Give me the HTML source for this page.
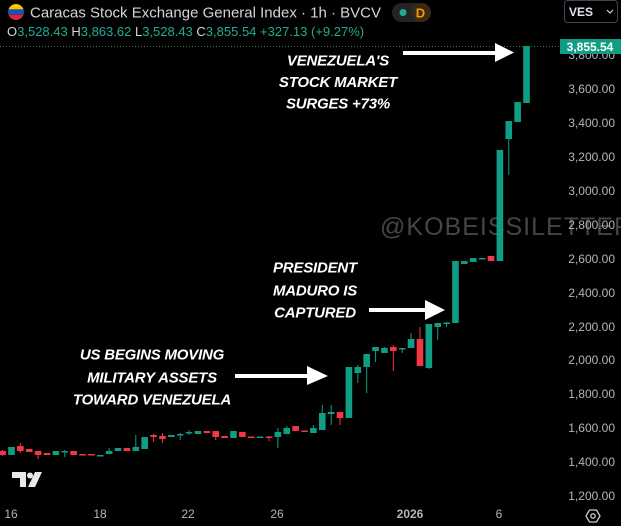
<!DOCTYPE html>
<html><head><meta charset="utf-8"><style>
html,body{margin:0;padding:0;background:#000;}
body{width:621px;height:526px;overflow:hidden;}
svg{display:block;}
.g{fill:#0f9d84;}
.r{fill:#f23645;}
.ax{font-family:"Liberation Sans",sans-serif;font-size:12px;fill:#b2b5be;}
.ann{font-family:"Liberation Sans",sans-serif;font-size:15px;font-weight:bold;font-style:italic;fill:#fff;letter-spacing:-0.2px;}
</style></head><body>
<svg width="621" height="526" viewBox="0 0 621 526" xmlns="http://www.w3.org/2000/svg">
<rect width="621" height="526" fill="#000"/>

<!-- watermark -->
<text x="380" y="235" font-family="Liberation Sans,sans-serif" font-size="25" fill="#454545" textLength="252" lengthAdjust="spacing">@KOBEISSILETTER</text>

<!-- price line -->
<line x1="0" y1="46.5" x2="560" y2="46.5" stroke="#4f6b66" stroke-width="1" stroke-dasharray="1,2"/>

<!-- y axis labels -->
<g class="ax" text-anchor="end">
<text x="615" y="59">3,800.00</text>
<text x="615" y="93">3,600.00</text>
<text x="615" y="127">3,400.00</text>
<text x="615" y="161">3,200.00</text>
<text x="615" y="195">3,000.00</text>
<text x="615" y="229">2,800.00</text>
<text x="615" y="263">2,600.00</text>
<text x="615" y="297">2,400.00</text>
<text x="615" y="331">2,200.00</text>
<text x="615" y="364">2,000.00</text>
<text x="615" y="398">1,800.00</text>
<text x="615" y="432">1,600.00</text>
<text x="615" y="466">1,400.00</text>
<text x="615" y="500">1,200.00</text>
</g>

<!-- price tag -->
<rect x="560" y="39" width="61" height="15" fill="#0f9d84"/>
<text x="590" y="51" text-anchor="middle" font-family="Liberation Sans,sans-serif" font-size="12" font-weight="bold" fill="#fff">3,855.54</text>

<!-- candles -->
<g>
<rect class="r" x="2.1" y="450" width="1" height="6"/><rect class="r" x="-0.7" y="451" width="6.6" height="4"/>
<rect class="g" x="8.18" y="447" width="6.6" height="8"/>
<rect class="r" x="19.86" y="443" width="1" height="10"/><rect class="r" x="17.06" y="446" width="6.6" height="5"/>
<rect class="r" x="25.94" y="449" width="6.6" height="3"/>
<rect class="r" x="37.62" y="451" width="1" height="8"/><rect class="r" x="34.82" y="451" width="6.6" height="4"/>
<rect class="r" x="43.7" y="453" width="6.6" height="2"/>
<rect class="g" x="52.58" y="451" width="6.6" height="4"/>
<rect class="g" x="64.26" y="450" width="1" height="7"/><rect class="g" x="61.46" y="451" width="6.6" height="1.5"/>
<rect class="r" x="70.34" y="451" width="6.6" height="4"/>
<rect class="r" x="79.22" y="454" width="6.6" height="1.5"/>
<rect class="r" x="88.1" y="454" width="6.6" height="1.5"/>
<rect class="g" x="96.98" y="455" width="6.6" height="1.5"/>
<rect class="g" x="108.66" y="448" width="1" height="6"/><rect class="g" x="105.86" y="451" width="6.6" height="3"/>
<rect class="g" x="114.74" y="448" width="6.6" height="3"/>
<rect class="r" x="123.62" y="448" width="6.6" height="3"/>
<rect class="g" x="135.3" y="435" width="1" height="16"/><rect class="g" x="132.5" y="447" width="6.6" height="4"/>
<rect class="g" x="141.38" y="437" width="6.6" height="12"/>
<rect class="r" x="153.06" y="434" width="1" height="8"/><rect class="r" x="150.26" y="435" width="6.6" height="2"/>
<rect class="r" x="161.94" y="433" width="1" height="10"/><rect class="r" x="159.14" y="436" width="6.6" height="3"/>
<rect class="g" x="168.02" y="435" width="6.6" height="2"/>
<rect class="g" x="179.7" y="433" width="1" height="7"/><rect class="g" x="176.9" y="434" width="6.6" height="1.5"/>
<rect class="g" x="188.58" y="430" width="1" height="5"/><rect class="g" x="185.78" y="432" width="6.6" height="1.5"/>
<rect class="g" x="194.66" y="431" width="6.6" height="3"/>
<rect class="r" x="203.54" y="431" width="6.6" height="2"/>
<rect class="r" x="215.22" y="431" width="1" height="9"/><rect class="r" x="212.42" y="431" width="6.6" height="6"/>
<rect class="r" x="221.3" y="436" width="6.6" height="2"/>
<rect class="g" x="230.18" y="431" width="6.6" height="7"/>
<rect class="r" x="239.06" y="432" width="6.6" height="5"/>
<rect class="r" x="247.94" y="436.5" width="6.6" height="1.5"/>
<rect class="g" x="256.82" y="436.5" width="6.6" height="1.5"/>
<rect class="r" x="268.5" y="436" width="1" height="5"/><rect class="r" x="265.7" y="436.5" width="6.6" height="1.5"/>
<rect class="g" x="277.38" y="428" width="1" height="20"/><rect class="g" x="274.58" y="432" width="6.6" height="5"/>
<rect class="g" x="286.26" y="426" width="1" height="8"/><rect class="g" x="283.46" y="428" width="6.6" height="6"/>
<rect class="r" x="292.34" y="426" width="6.6" height="5"/>
<rect class="r" x="301.22" y="430.5" width="6.6" height="1.5"/>
<rect class="g" x="312.9" y="425" width="1" height="8"/><rect class="g" x="310.1" y="428" width="6.6" height="5"/>
<rect class="g" x="321.78" y="405" width="1" height="25"/><rect class="g" x="318.98" y="413" width="6.6" height="17"/>
<rect class="g" x="330.66" y="405" width="1" height="20"/><rect class="g" x="327.86" y="412" width="6.6" height="2"/>
<rect class="r" x="339.54" y="412" width="1" height="13"/><rect class="r" x="336.74" y="412" width="6.6" height="6"/>
<rect class="g" x="345.62" y="367" width="6.6" height="51"/>
<rect class="g" x="357.3" y="365" width="1" height="18"/><rect class="g" x="354.5" y="367" width="6.6" height="6"/>
<rect class="g" x="366.18" y="354" width="1" height="39"/><rect class="g" x="363.38" y="354" width="6.6" height="13"/>
<rect class="g" x="375.06" y="347" width="1" height="15"/><rect class="g" x="372.26" y="347" width="6.6" height="4"/>
<rect class="g" x="383.94" y="347" width="1" height="6"/><rect class="g" x="381.14" y="348" width="6.6" height="5"/>
<rect class="r" x="392.82" y="345" width="1" height="26"/><rect class="r" x="390.02" y="347" width="6.6" height="4"/>
<rect class="g" x="401.7" y="348" width="1" height="5"/><rect class="g" x="398.9" y="348" width="6.6" height="1.5"/>
<rect class="g" x="410.58" y="333" width="1" height="15"/><rect class="g" x="407.78" y="339" width="6.6" height="9"/>
<rect class="r" x="419.46" y="327" width="1" height="39"/><rect class="r" x="416.66" y="339" width="6.6" height="27"/>
<rect class="g" x="428.34" y="324" width="1" height="45"/><rect class="g" x="425.54" y="324" width="6.6" height="44"/>
<rect class="g" x="437.22" y="323" width="1" height="17"/><rect class="g" x="434.42" y="323" width="6.6" height="4"/>
<rect class="g" x="446.1" y="322" width="1" height="5"/><rect class="g" x="443.3" y="322.5" width="6.6" height="1.5"/>
<rect class="g" x="452.18" y="261" width="6.6" height="62"/>
<rect class="g" x="461.06" y="261" width="6.6" height="3"/>
<rect class="g" x="469.94" y="258" width="6.6" height="4"/>
<rect class="g" x="478.82" y="258" width="6.6" height="1.5"/>
<rect class="r" x="487.7" y="256" width="6.6" height="5"/>
<rect class="g" x="496.58" y="150" width="6.6" height="111"/>
<rect class="g" x="508.26" y="121" width="1" height="54"/><rect class="g" x="505.46" y="121" width="6.6" height="18"/>
<rect class="g" x="514.34" y="102" width="6.6" height="20"/>
<rect class="g" x="523.22" y="46" width="6.6" height="57"/>
</g>

<!-- annotations -->
<g class="ann" text-anchor="middle">
<text x="338" y="65.5">VENEZUELA'S</text>
<text x="338" y="87">STOCK MARKET</text>
<text x="338" y="108.5">SURGES +73%</text>
<text x="315" y="272.5">PRESIDENT</text>
<text x="315" y="295.5">MADURO IS</text>
<text x="315" y="317.5">CAPTURED</text>
<text x="152" y="359.5">US BEGINS MOVING</text>
<text x="152" y="382.5">MILITARY ASSETS</text>
<text x="152" y="404.5">TOWARD VENEZUELA</text>
</g>
<!-- arrows -->
<g fill="#fff">
<rect x="403" y="51" width="93" height="4"/>
<polygon points="495,43 495,62 514,52.5"/>
<rect x="369" y="308" width="58" height="4"/>
<polygon points="425,300 425,320 445,310"/>
<rect x="235" y="374" width="73" height="4"/>
<polygon points="307,366 307,385 328,376"/>
</g>

<!-- header -->
<defs><clipPath id="fc"><circle cx="16" cy="12" r="8"/></clipPath></defs>
<g clip-path="url(#fc)">
<rect x="8" y="4" width="16" height="5.4" fill="#f7c600"/>
<rect x="8" y="9.4" width="16" height="5.3" fill="#1f4fb4"/>
<rect x="8" y="14.7" width="16" height="5.3" fill="#d7263d"/>
</g>
<text x="30" y="17.5" font-family="Liberation Sans,sans-serif" font-size="15" fill="#d1d4dc">Caracas Stock Exchange General Index · 1h · BVCV</text>
<rect x="392" y="3" width="39" height="19" rx="9.5" fill="#242424"/>
<rect x="412" y="3" width="19" height="19" rx="9.5" fill="#3a2a14"/>
<circle cx="403" cy="12.5" r="3.5" fill="#22ab94"/>
<text x="420.5" y="17.5" text-anchor="middle" font-family="Liberation Sans,sans-serif" font-size="13" font-weight="bold" fill="#ff9800">D</text>

<text x="7" y="36" font-family="Liberation Sans,sans-serif" font-size="13" fill="#22ab94"><tspan fill="#d1d4dc">O</tspan>3,528.43 <tspan fill="#d1d4dc">H</tspan>3,863.62 <tspan fill="#d1d4dc">L</tspan>3,528.43 <tspan fill="#d1d4dc">C</tspan>3,855.54 +327.13 (+9.27%)</text>

<rect x="564.5" y="0.5" width="53" height="22" rx="3" fill="#000" stroke="#434651"/>
<text x="569" y="16" font-family="Liberation Sans,sans-serif" font-size="12" font-weight="bold" fill="#e0e3eb">VES</text>
<polyline points="607,10 610,13 613,10" fill="none" stroke="#d1d4dc" stroke-width="1.2"/>

<!-- x axis -->
<g class="ax" text-anchor="middle">
<text x="11" y="518">16</text>
<text x="100" y="518">18</text>
<text x="188" y="518">22</text>
<text x="277" y="518">26</text>
<text x="410" y="518" font-weight="bold">2026</text>
<text x="499" y="518">6</text>
</g>
<!-- settings icon -->
<polygon points="586,516 589.5,510 596.5,510 600,516 596.5,522 589.5,522" fill="none" stroke="#c8cbd2" stroke-width="1.3"/>
<circle cx="593" cy="516" r="2.2" fill="none" stroke="#c8cbd2" stroke-width="1.3"/>

<!-- TV logo -->
<g fill="#e8e8e8">
<path d="M12,472 H26 V487 H20 V478 H12 Z"/>
<circle cx="30" cy="475.5" r="3"/>
<polygon points="35,472 42,472 35,487 28,487"/>
</g>
</svg>
</body></html>
